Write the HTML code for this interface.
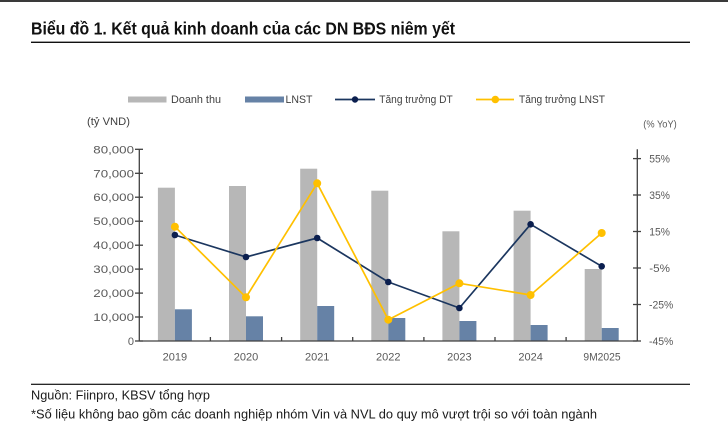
<!DOCTYPE html>
<html>
<head>
<meta charset="utf-8">
<style>
  html, body { margin:0; padding:0; background:#ffffff; }
  body { width:728px; height:441px; overflow:hidden; }
  svg { display:block; }
  text { font-family: "Liberation Sans", "Noto Sans CJK SC", sans-serif; }
</style>
</head>
<body>
<svg width="728" height="441" viewBox="0 0 728 441" xmlns="http://www.w3.org/2000/svg">
  <rect x="0" y="0" width="728" height="441" fill="#ffffff"/>
  <!-- top dark strip -->
  <rect x="0" y="0" width="728" height="2" fill="#3a3a3a"/>

  <!-- Title -->
  <text x="31" y="34.3" font-size="17.5" font-weight="bold" fill="#111" textLength="424" lengthAdjust="spacingAndGlyphs">Biểu đồ 1. Kết quả kinh doanh của các DN BĐS niêm yết</text>
  <rect x="31" y="41.6" width="659" height="1.4" fill="#111"/>

  <!-- Legend -->
  <rect x="128" y="96.5" width="38.5" height="6" fill="#b7b7b7"/>
  <text x="171" y="103" font-size="11" fill="#404040" textLength="50" lengthAdjust="spacingAndGlyphs">Doanh thu</text>
  <rect x="245" y="96.5" width="39" height="6" fill="#6682a6"/>
  <text x="285.5" y="103" font-size="11" fill="#404040" textLength="27" lengthAdjust="spacingAndGlyphs">LNST</text>
  <line x1="335" y1="99.5" x2="375" y2="99.5" stroke="#1b365f" stroke-width="1.7"/>
  <circle cx="355" cy="99.5" r="3.2" fill="#0b1f4f"/>
  <text x="379.3" y="103" font-size="11" fill="#404040" textLength="73.4" lengthAdjust="spacingAndGlyphs">Tăng trưởng DT</text>
  <line x1="476" y1="99.5" x2="514" y2="99.5" stroke="#ffc000" stroke-width="1.7"/>
  <circle cx="495.3" cy="99.5" r="3.8" fill="#ffc000"/>
  <text x="519" y="103" font-size="11" fill="#404040" textLength="86" lengthAdjust="spacingAndGlyphs">Tăng trưởng LNST</text>

  <!-- Axis unit labels -->
  <text x="87" y="125" font-size="11" fill="#404040" textLength="43" lengthAdjust="spacingAndGlyphs">(tỷ VND)</text>
  <text x="643.3" y="127.5" font-size="10.5" fill="#595959" textLength="33.4" lengthAdjust="spacingAndGlyphs">(% YoY)</text>

  <!-- Bars: grey (Doanh thu) -->
  <g fill="#b7b7b7">
    <rect x="157.9" y="187.7" width="17" height="153.3"/>
    <rect x="229.0" y="186.0" width="17" height="155.0"/>
    <rect x="300.2" y="168.7" width="17" height="172.3"/>
    <rect x="371.3" y="190.7" width="17" height="150.3"/>
    <rect x="442.4" y="231.3" width="17" height="109.7"/>
    <rect x="513.6" y="210.7" width="17" height="130.3"/>
    <rect x="584.7" y="269.0" width="17" height="72.0"/>
  </g>
  <!-- Bars: blue (LNST) -->
  <g fill="#6682a6">
    <rect x="174.9" y="309.3" width="17" height="31.7"/>
    <rect x="246.0" y="316.3" width="17" height="24.7"/>
    <rect x="317.2" y="306.0" width="17" height="35.0"/>
    <rect x="388.3" y="318.0" width="17" height="23.0"/>
    <rect x="459.4" y="321.0" width="17" height="20.0"/>
    <rect x="530.6" y="325.0" width="17" height="16.0"/>
    <rect x="601.7" y="328.0" width="17" height="13.0"/>
  </g>

  <!-- Axes -->
  <g stroke="#404040" stroke-width="1.3" fill="none">
    <line x1="139.3" y1="149.3" x2="139.3" y2="341.5"/>
    <line x1="139.3" y1="341" x2="637.3" y2="341"/>
    <line x1="637.3" y1="149.3" x2="637.3" y2="341.5"/>
    <!-- left ticks -->
    <line x1="135" y1="149.3" x2="143" y2="149.3"/>
    <line x1="135" y1="173.3" x2="143" y2="173.3"/>
    <line x1="135" y1="197.2" x2="143" y2="197.2"/>
    <line x1="135" y1="221.2" x2="143" y2="221.2"/>
    <line x1="135" y1="245.2" x2="143" y2="245.2"/>
    <line x1="135" y1="269.1" x2="143" y2="269.1"/>
    <line x1="135" y1="293.1" x2="143" y2="293.1"/>
    <line x1="135" y1="317.0" x2="143" y2="317.0"/>
    <line x1="135" y1="341.0" x2="143" y2="341.0"/>
    <!-- right ticks -->
    <line x1="633" y1="158.6" x2="641" y2="158.6"/>
    <line x1="633" y1="195.0" x2="641" y2="195.0"/>
    <line x1="633" y1="231.5" x2="641" y2="231.5"/>
    <line x1="633" y1="268.0" x2="641" y2="268.0"/>
    <line x1="633" y1="304.5" x2="641" y2="304.5"/>
    <line x1="633" y1="341.0" x2="641" y2="341.0"/>
    <!-- category ticks -->
    <line x1="210.4" y1="337" x2="210.4" y2="341"/>
    <line x1="281.6" y1="337" x2="281.6" y2="341"/>
    <line x1="352.7" y1="337" x2="352.7" y2="341"/>
    <line x1="423.9" y1="337" x2="423.9" y2="341"/>
    <line x1="495.0" y1="337" x2="495.0" y2="341"/>
    <line x1="566.1" y1="337" x2="566.1" y2="341"/>
  </g>

  <!-- Left labels -->
  <g font-size="11" fill="#595959" text-anchor="end">
    <text x="134" y="153.3" textLength="40.7" lengthAdjust="spacingAndGlyphs">80,000</text>
    <text x="134" y="177.3" textLength="40.7" lengthAdjust="spacingAndGlyphs">70,000</text>
    <text x="134" y="201.2" textLength="40.7" lengthAdjust="spacingAndGlyphs">60,000</text>
    <text x="134" y="225.2" textLength="40.7" lengthAdjust="spacingAndGlyphs">50,000</text>
    <text x="134" y="249.2" textLength="40.7" lengthAdjust="spacingAndGlyphs">40,000</text>
    <text x="134" y="273.1" textLength="40.7" lengthAdjust="spacingAndGlyphs">30,000</text>
    <text x="134" y="297.1" textLength="40.7" lengthAdjust="spacingAndGlyphs">20,000</text>
    <text x="134" y="321.0" textLength="40.7" lengthAdjust="spacingAndGlyphs">10,000</text>
    <text x="134" y="345.0">0</text>
  </g>

  <!-- Right labels -->
  <g font-size="11" fill="#595959">
    <text x="649.3" y="162.6" textLength="20.7" lengthAdjust="spacingAndGlyphs">55%</text>
    <text x="649.3" y="199.0" textLength="20.7" lengthAdjust="spacingAndGlyphs">35%</text>
    <text x="649.3" y="235.5" textLength="20.7" lengthAdjust="spacingAndGlyphs">15%</text>
    <text x="649.3" y="272.0" textLength="20.7" lengthAdjust="spacingAndGlyphs">-5%</text>
    <text x="649" y="308.5" textLength="24.3" lengthAdjust="spacingAndGlyphs">-25%</text>
    <text x="649" y="345.0" textLength="24.3" lengthAdjust="spacingAndGlyphs">-45%</text>
  </g>

  <!-- X labels -->
  <g font-size="11" fill="#595959" text-anchor="middle">
    <text x="174.9" y="360.7">2019</text>
    <text x="246.0" y="360.7">2020</text>
    <text x="317.2" y="360.7">2021</text>
    <text x="388.3" y="360.7">2022</text>
    <text x="459.4" y="360.7">2023</text>
    <text x="530.6" y="360.7">2024</text>
    <text x="602.0" y="360.7" textLength="37.3" lengthAdjust="spacingAndGlyphs">9M2025</text>
  </g>

  <!-- Lines -->
  <polyline fill="none" stroke="#1b365f" stroke-width="1.7" stroke-linejoin="round"
    points="174.9,235 246,257 317.2,238 388.3,282 459.4,308 530.6,224.3 601.7,266.3"/>
  <polyline fill="none" stroke="#ffc000" stroke-width="1.7" stroke-linejoin="round"
    points="174.9,226.7 246,297.3 317.2,183.3 388.3,319.7 459.4,283.3 530.6,295 601.7,233"/>
  <g fill="#0b1f4f">
    <circle cx="174.9" cy="235" r="3.3"/>
    <circle cx="246" cy="257" r="3.3"/>
    <circle cx="317.2" cy="238" r="3.3"/>
    <circle cx="388.3" cy="282" r="3.3"/>
    <circle cx="459.4" cy="308" r="3.3"/>
    <circle cx="530.6" cy="224.3" r="3.3"/>
    <circle cx="601.7" cy="266.3" r="3.3"/>
  </g>
  <g fill="#ffc000">
    <circle cx="174.9" cy="226.7" r="4"/>
    <circle cx="246" cy="297.3" r="4"/>
    <circle cx="317.2" cy="183.3" r="4"/>
    <circle cx="388.3" cy="319.7" r="4"/>
    <circle cx="459.4" cy="283.3" r="4"/>
    <circle cx="530.6" cy="295" r="4"/>
    <circle cx="601.7" cy="233" r="4"/>
  </g>

  <!-- Footer -->
  <rect x="31" y="383.7" width="659" height="1.2" fill="#111"/>
  <text x="31" y="399.3" font-size="12.5" fill="#1a1a1a" textLength="179" lengthAdjust="spacingAndGlyphs">Nguồn: Fiinpro, KBSV tổng hợp</text>
  <text x="31" y="418.6" font-size="12.5" fill="#1a1a1a" textLength="566" lengthAdjust="spacingAndGlyphs">*Số liệu không bao gồm các doanh nghiệp nhóm Vin và NVL do quy mô vượt trội so với toàn ngành</text>
</svg>
</body>
</html>
